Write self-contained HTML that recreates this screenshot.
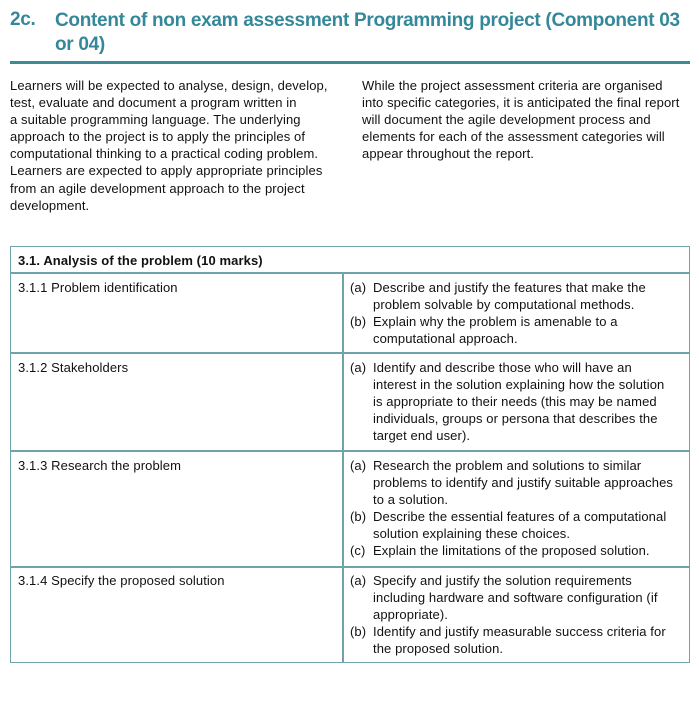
<!DOCTYPE html>
<html><head><meta charset="utf-8"><style>
body{margin:0;width:699px;height:702px;background:#fff;position:relative;overflow:hidden;font-family:"Liberation Sans",sans-serif;color:#111}
.t{position:absolute;font-size:19px;font-weight:bold;color:#34889a;letter-spacing:-0.3px;white-space:nowrap}
.p{position:absolute;font-size:13px;line-height:17.1px;letter-spacing:0.1px;white-space:nowrap}
.rule{position:absolute;left:10px;top:61px;width:680px;height:3px;background:#3d8a98}
.tbl{position:absolute;left:10px;top:246px;width:678px;height:415px;border:1.5px solid #6fa3ac}
.h{position:absolute;left:0;width:100%;height:1.5px;background:#6fa3ac}
.v{position:absolute;left:331px;top:26px;width:1.5px;height:389px;background:#6fa3ac}
b{font-weight:bold}
</style></head><body>
<div class="t" style="left:10px;top:9px">2c.</div>
<div class="t" style="left:55px;top:9px;line-height:24px">Content of non exam assessment Programming project (Component 03<br>or 04)</div>
<div class="rule"></div>
<div class="p" style="left:10px;top:77px">Learners will be expected to analyse, design, develop,<br>test, evaluate and document a program written in<br>a suitable programming language. The underlying<br>approach to the project is to apply the principles of<br>computational thinking to a practical coding problem.<br>Learners are expected to apply appropriate principles<br>from an agile development approach to the project<br>development.</div>
<div class="p" style="left:362px;top:77px">While the project assessment criteria are organised<br>into specific categories, it is anticipated the final report<br>will document the agile development process and<br>elements for each of the assessment categories will<br>appear throughout the report.</div>
<div class="tbl">
<div class="h" style="top:25px"></div>
<div class="h" style="top:105px"></div>
<div class="h" style="top:203px"></div>
<div class="h" style="top:319px"></div>
<div class="v"></div>
<div class="p" style="left:7px;top:5px"><b>3.1. Analysis of the problem (10 marks)</b></div>
<div class="p" style="left:7px;top:32px">3.1.1 Problem identification</div>
<div class="p" style="left:7px;top:112px">3.1.2 Stakeholders</div>
<div class="p" style="left:7px;top:210px">3.1.3 Research the problem</div>
<div class="p" style="left:7px;top:325px">3.1.4 Specify the proposed solution</div>
<div class="p" style="left:339px;top:32px">(a)<br><br>(b)</div>
<div class="p" style="left:362px;top:32px">Describe and justify the features that make the<br>problem solvable by computational methods.<br>Explain why the problem is amenable to a<br>computational approach.</div>
<div class="p" style="left:339px;top:112px">(a)</div>
<div class="p" style="left:362px;top:112px">Identify and describe those who will have an<br>interest in the solution explaining how the solution<br>is appropriate to their needs (this may be named<br>individuals, groups or persona that describes the<br>target end user).</div>
<div class="p" style="left:339px;top:210px">(a)<br><br><br>(b)<br><br>(c)</div>
<div class="p" style="left:362px;top:210px">Research the problem and solutions to similar<br>problems to identify and justify suitable approaches<br>to a solution.<br>Describe the essential features of a computational<br>solution explaining these choices.<br>Explain the limitations of the proposed solution.</div>
<div class="p" style="left:339px;top:325px">(a)<br><br><br>(b)</div>
<div class="p" style="left:362px;top:325px">Specify and justify the solution requirements<br>including hardware and software configuration (if<br>appropriate).<br>Identify and justify measurable success criteria for<br>the proposed solution.</div>
</div>
</body></html>
